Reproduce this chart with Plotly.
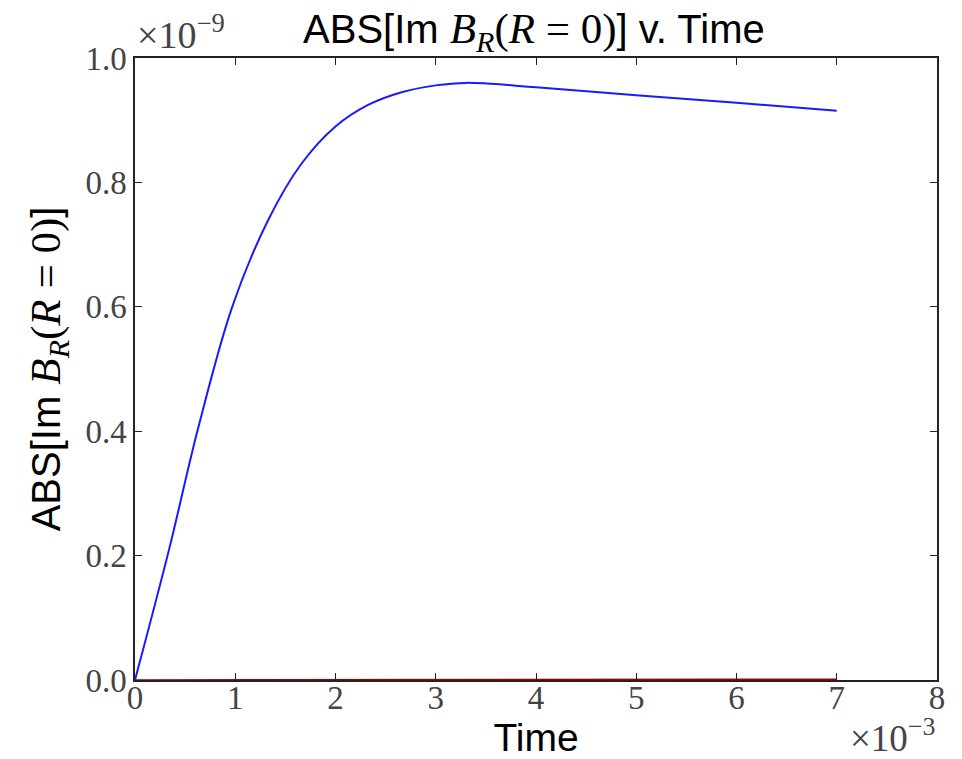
import plotly.graph_objects as go

# Time values (units of 1e-3) and |Im B_R(R=0)| (units of 1e-9)
blue_t = [0.0, 0.34, 0.63, 0.97, 1.33, 1.66, 2.0, 2.33, 2.66, 3.0, 3.3, 4.0, 5.0, 6.0, 7.0]
blue_v = [0.0, 0.21, 0.405, 0.6, 0.74, 0.83, 0.89, 0.925, 0.945, 0.956, 0.96, 0.953, 0.94, 0.928, 0.915]

red_t = [0.0, 2.4, 2.45, 7.0]
red_v = [0.0, 0.0, 0.0012, 0.0012]

x_ticks = [0, 1, 2, 3, 4, 5, 6, 7, 8]
y_ticks = [0.0, 0.2, 0.4, 0.6, 0.8, 1.0]

XS = 1e-3
YS = 1e-9

SERIF = "Liberation Serif"
SANS = "Liberation Sans"
math = ('<span style="font-family:%s;font-size:43px"><i>B</i><sub><i>R</i></sub>(<i>R</i>&nbsp;=&nbsp;0)</span>' % SERIF)

fig = go.Figure()
fig.add_trace(go.Scatter(x=[t * XS for t in red_t], y=[v * YS for v in red_v],
                         mode="lines", line=dict(color="#a00000", width=1.5), showlegend=False))
fig.add_trace(go.Scatter(x=[t * XS for t in blue_t], y=[v * YS for v in blue_v],
                         mode="lines", line=dict(color="#1a1aff", width=2, shape="spline", smoothing=1.0),
                         showlegend=False))

axis_common = dict(showgrid=False, zeroline=False, showline=True, linecolor="#222222", linewidth=1.5,
                   mirror="ticks", ticks="inside", ticklen=7, tickwidth=1, tickcolor="#222222",
                   automargin=False,
                   tickfont=dict(family=SERIF, size=33, color="#444444"))

fig.update_xaxes(range=[0, 8 * XS], tickvals=[t * XS for t in x_ticks],
                 ticktext=[str(t) for t in x_ticks], ticklabelstandoff=-12,
                 title=dict(text="Time", font=dict(family=SANS, size=39, color="black"), standoff=0),
                 **axis_common)
fig.update_yaxes(range=[0, 1.0 * YS], tickvals=[v * YS for v in y_ticks],
                 ticktext=["%.1f" % v for v in y_ticks],
                 title=dict(text="ABS[Im " + math + "]", font=dict(family=SANS, size=40, color="black"), standoff=12),
                 **axis_common)

fig.update_layout(
    width=962, height=759,
    margin=dict(l=135, r=25, t=58, b=79, autoexpand=False),
    paper_bgcolor="white", plot_bgcolor="white",
    title=dict(text="ABS[Im " + math + "] v. Time", x=0.555, xanchor="center", y=0.962, yanchor="middle",
               font=dict(family=SANS, size=40, color="black")),
    annotations=[
        dict(text="×10<sup>−9</sup>", xref="paper", yref="paper", x=0, y=1.0, xanchor="left", yanchor="bottom",
             showarrow=False, font=dict(family=SERIF, size=38, color="#444444")),
        dict(text="×10<sup>−3</sup>", xref="paper", yref="paper", x=1.0, y=-0.13, xanchor="right", yanchor="bottom",
             showarrow=False, font=dict(family=SERIF, size=37, color="#444444")),
    ],
)

fig.write_html("out.html")
